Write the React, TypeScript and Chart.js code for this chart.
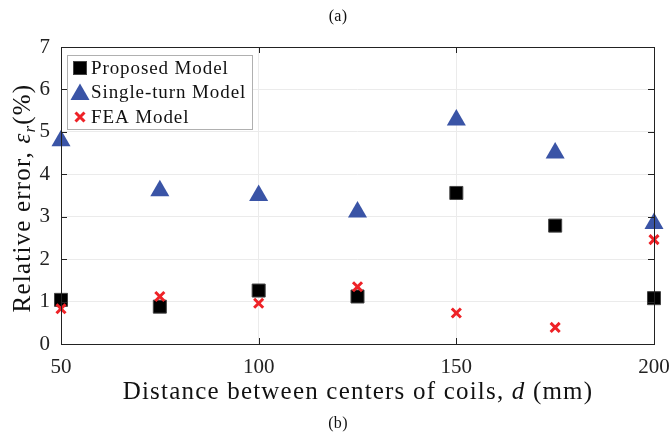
import React, { useEffect, useRef } from "react";
import { Chart, registerables } from "chart.js";

Chart.register(...registerables);

const distances = [50, 75, 100, 125, 150, 175, 200];
const proposedModel = [1.04, 0.88, 1.26, 1.12, 3.56, 2.79, 1.08];
const singleTurnModel = [4.79, 3.61, 3.5, 3.11, 5.28, 4.5, 2.84];
const feaModel = [0.83, 1.12, 0.96, 1.35, 0.73, 0.39, 2.46];
const yTicks = [0, 1, 2, 3, 4, 5, 6, 7];
const xTicks = [50, 100, 150, 200];
const legendLabels = ["Proposed Model", "Single-turn Model", "FEA Model"];

const BLUE = "#3A54A6";
const RED = "#EE2227";
const SERIF = "'Liberation Serif', 'Times New Roman', serif";

function drawMarker(ctx: CanvasRenderingContext2D, kind: number, x: number, y: number) {
  ctx.save();
  if (kind === 0) {
    ctx.fillStyle = "#000";
    ctx.strokeStyle = "#444";
    ctx.lineWidth = 1;
    ctx.fillRect(x - 6.5, y - 6.5, 13, 13);
    ctx.strokeRect(x - 6.5, y - 6.5, 13, 13);
  } else if (kind === 1) {
    const r = 11;
    ctx.fillStyle = BLUE;
    ctx.beginPath();
    ctx.moveTo(x, y - r);
    ctx.lineTo(x + (r * Math.sqrt(3)) / 2, y + r / 2);
    ctx.lineTo(x - (r * Math.sqrt(3)) / 2, y + r / 2);
    ctx.closePath();
    ctx.fill();
  } else {
    const s = 4.5;
    ctx.strokeStyle = RED;
    ctx.lineWidth = 3;
    ctx.beginPath();
    ctx.moveTo(x - s, y - s);
    ctx.lineTo(x + s, y + s);
    ctx.moveTo(x + s, y - s);
    ctx.lineTo(x - s, y + s);
    ctx.stroke();
  }
  ctx.restore();
}

function setSpacing(ctx: any, px: number) {
  if ("letterSpacing" in ctx) ctx.letterSpacing = `${px}px`;
}

const decorPlugin = {
  id: "decor",
  afterDraw(chart: any) {
    const { ctx, chartArea } = chart;
    const { left, right, top, bottom } = chartArea;
    const xs = chart.scales.x;
    const ys = chart.scales.y;
    ctx.save();
    // box
    ctx.strokeStyle = "#222";
    ctx.lineWidth = 1;
    ctx.strokeRect(left + 0.5, top + 0.5, right - left, bottom - top);
    // inner ticks
    ctx.beginPath();
    yTicks.forEach((v) => {
      const py = Math.round(ys.getPixelForValue(v)) + 0.5;
      ctx.moveTo(left, py);
      ctx.lineTo(left + 6, py);
      ctx.moveTo(right, py);
      ctx.lineTo(right - 6, py);
    });
    xTicks.forEach((v) => {
      const px = Math.round(xs.getPixelForValue(v)) + 0.5;
      ctx.moveTo(px, bottom);
      ctx.lineTo(px, bottom - 6);
      ctx.moveTo(px, top);
      ctx.lineTo(px, top + 6);
    });
    ctx.stroke();

    // legend
    const lx = 67, ly = 55, lw = 185, lh = 74;
    ctx.fillStyle = "#fff";
    ctx.fillRect(lx, ly, lw, lh);
    ctx.strokeStyle = "#b0b0b0";
    ctx.strokeRect(lx + 0.5, ly + 0.5, lw, lh);
    ctx.font = `19px ${SERIF}`;
    setSpacing(ctx, 0.9);
    ctx.fillStyle = "#111";
    ctx.textBaseline = "middle";
    ctx.textAlign = "left";
    legendLabels.forEach((lab, i) => {
      const cy = 68 + i * 24.5;
      drawMarker(ctx, i, 80, i === 1 ? cy + 2 : cy);
      ctx.fillStyle = "#111";
      ctx.fillText(lab, 91, cy + 1);
    });

    // titles
    setSpacing(ctx, 0.3);
    ctx.textAlign = "center";
    ctx.font = `16px ${SERIF}`;
    ctx.fillText("(a)", 338, 17);
    ctx.fillText("(b)", 338, 424);

    // x axis title
    setSpacing(ctx, 1.2);
    const parts: [string, string][] = [
      ["Distance between centers of coils, ", `25px ${SERIF}`],
      ["d", `italic 25px ${SERIF}`],
      [" (mm)", `25px ${SERIF}`],
    ];
    let total = 0;
    parts.forEach(([t, f]) => {
      ctx.font = f;
      total += ctx.measureText(t).width;
    });
    let cx = 358 - total / 2;
    ctx.textAlign = "left";
    ctx.textBaseline = "alphabetic";
    parts.forEach(([t, f]) => {
      ctx.font = f;
      ctx.fillText(t, cx, 399);
      cx += ctx.measureText(t).width;
    });

    // y axis title
    ctx.save();
    ctx.translate(30, 198);
    ctx.rotate(-Math.PI / 2);
    const yparts: [string, string, number][] = [
      ["Relative error, ", `25px ${SERIF}`, 0],
      ["ε", `italic 25px ${SERIF}`, 0],
      ["r", `italic 17px ${SERIF}`, 5],
      ["(%)", `25px ${SERIF}`, 0],
    ];
    total = 0;
    yparts.forEach(([t, f]) => {
      ctx.font = f;
      total += ctx.measureText(t).width;
    });
    cx = -total / 2;
    yparts.forEach(([t, f, dy]) => {
      ctx.font = f;
      ctx.fillText(t, cx, dy);
      cx += ctx.measureText(t).width;
    });
    ctx.restore();
    setSpacing(ctx, 0);
    ctx.restore();
  },
};

export default function App() {
  const ref = useRef<HTMLCanvasElement | null>(null);
  useEffect(() => {
    document.body.style.margin = "0";
    const mk = (arr: number[]) => distances.map((d, i) => ({ x: d, y: arr[i] }));
    const chart = new Chart(ref.current as HTMLCanvasElement, {
      type: "scatter",
      data: {
        datasets: [
          {
            label: legendLabels[2],
            data: mk(feaModel),
            pointStyle: "crossRot",
            pointRadius: 6.4,
            pointBorderWidth: 3,
            borderColor: RED,
            backgroundColor: RED,
            clip: false as any,
          },
          {
            label: legendLabels[0],
            data: mk(proposedModel),
            pointStyle: "rect",
            pointRadius: 9.2,
            pointBorderWidth: 1,
            borderColor: "#444",
            backgroundColor: "#000",
            clip: false as any,
          },
          {
            label: legendLabels[1],
            data: mk(singleTurnModel),
            pointStyle: "triangle",
            pointRadius: 11,
            pointBorderWidth: 0,
            borderColor: BLUE,
            backgroundColor: BLUE,
            clip: false as any,
          },
        ],
      },
      options: {
        animation: false,
        responsive: true,
        maintainAspectRatio: false,
        layout: { padding: { top: 47, right: 17, left: 0, bottom: 0 } },
        plugins: { legend: { display: false }, tooltip: { enabled: false }, title: { display: false } },
        scales: {
          x: {
            type: "linear",
            min: 50,
            max: 200,
            afterBuildTicks: (s: any) => {
              s.ticks = xTicks.map((v) => ({ value: v }));
            },
            afterFit: (s: any) => {
              s.height = 94;
              s.paddingLeft = 0;
              s.paddingRight = 0;
            },
            ticks: { font: { family: SERIF, size: 21 }, color: "#222", padding: 11 },
            grid: { color: "#ebebeb", drawTicks: false, tickLength: 0 },
            border: { display: false },
          },
          y: {
            min: 0,
            max: 7,
            afterBuildTicks: (s: any) => {
              s.ticks = yTicks.map((v) => ({ value: v }));
            },
            afterFit: (s: any) => {
              s.width = 61;
              s.paddingTop = 0;
              s.paddingBottom = 0;
            },
            ticks: { font: { family: SERIF, size: 21 }, color: "#222", padding: 11 },
            grid: { color: "#ebebeb", drawTicks: false, tickLength: 0 },
            border: { display: false },
          },
        },
      },
      plugins: [decorPlugin],
    });
    return () => chart.destroy();
  }, []);
  return (
    <div style={{ position: "absolute", left: 0, top: 0, width: 671, height: 438 }}>
      <canvas ref={ref} />
    </div>
  );
}
